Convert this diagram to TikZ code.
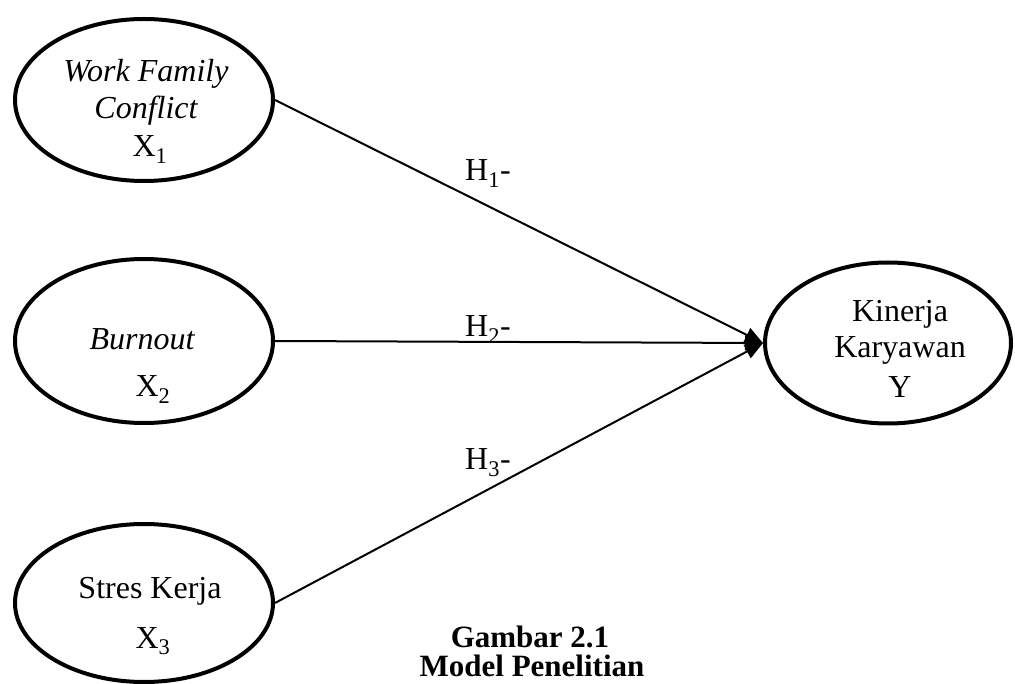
\documentclass[tikz,border=0pt]{standalone}
\usepackage{fontspec}
\setmainfont{Liberation Serif}
\usetikzlibrary{shapes.geometric,arrows.meta}
\begin{document}
\begin{tikzpicture}[x=1pt,y=-1pt,
  var/.style={draw,ellipse,line width=4pt,inner sep=0pt},
  lbl/.style={anchor=base,inner sep=0pt,font=\fontsize{32}{38}\selectfont},
  hyp/.style={anchor=base west,inner sep=0pt,font=\fontsize{32}{38}\selectfont},
  arr/.style={line width=2pt,-{Triangle[length=18pt,width=15pt]}},
  captxt/.style={anchor=base,inner sep=0pt,font=\fontsize{31}{37}\selectfont\bfseries}]
\useasboundingbox (0,0) rectangle (1015,684);
% ellipses
\node[var,minimum width=258pt,minimum height=162pt] (e1) at (144,100) {};
\node[var,minimum width=258pt,minimum height=164pt] (e2) at (144,341) {};
\node[var,minimum width=258pt,minimum height=158pt] (e3) at (144,603) {};
\node[var,minimum width=246pt,minimum height=161pt] (e4) at (888,343) {};
% texts
\node[lbl] (t1a) at (146,82) {\itshape Work Family};
\node[lbl] (t1b) at (146,119) {\itshape Conflict};
\node[lbl] (t1c) at (150,157) {X\textsubscript{1}};
\node[lbl] (t2a) at (142,350) {\itshape Burnout};
\node[lbl] (t2b) at (153,397) {X\textsubscript{2}};
\node[lbl] (t3a) at (150,598) {Stres Kerja};
\node[lbl] (t3b) at (153,648) {X\textsubscript{3}};
\node[lbl] (t4a) at (900,322) {Kinerja};
\node[lbl] (t4b) at (900,358) {Karyawan};
\node[lbl] (t4c) at (900,398) {Y};
% arrows
\coordinate (tip) at (e4.west);
\draw[arr] (e1.east) -- (tip);
\draw[arr] (e2.east) -- (tip);
\draw[arr] (e3.east) -- (tip);
% hypothesis labels
\node[hyp] (h1) at (465,181) {H\textsubscript{1}-};
\node[hyp] (h2) at (465,337) {H\textsubscript{2}-};
\node[hyp] (h3) at (465,470) {H\textsubscript{3}-};
% caption
\node[captxt] (c1) at (530,647) {Gambar 2.1};
\node[captxt] (c2) at (532,676) {Model Penelitian};
\end{tikzpicture}
\end{document}
